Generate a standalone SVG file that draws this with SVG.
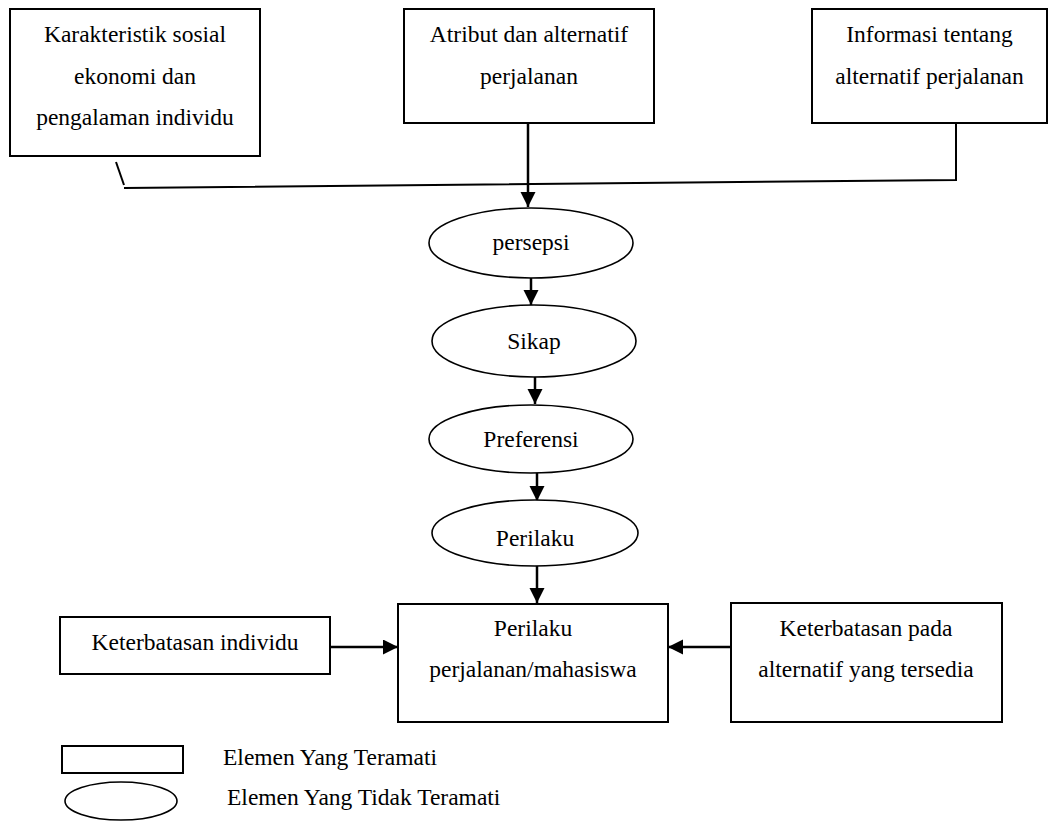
<svg xmlns="http://www.w3.org/2000/svg" width="1057" height="821" viewBox="0 0 1057 821">
<style>
.box{fill:#fff;stroke:#000;stroke-width:2}
.ell{fill:#fff;stroke:#000;stroke-width:1.6}
.t{font-family:"Liberation Serif","Times New Roman",serif;font-size:23.5px;fill:#000;text-anchor:middle}
.tl{font-family:"Liberation Serif","Times New Roman",serif;font-size:23.5px;fill:#000}
.ln{fill:none;stroke:#000;stroke-width:2}
.ar{fill:none;stroke:#000;stroke-width:2.5;marker-end:url(#ah)}
</style>
<defs>
<marker id="ah" markerUnits="userSpaceOnUse" markerWidth="16" markerHeight="16" refX="15" refY="7.5" orient="auto">
<path d="M0,0 L15,7.5 L0,15 Z" fill="#000"/>
</marker>
</defs>
<rect width="1057" height="821" fill="#fff"/>
<g id="connectors">
<path class="ln" d="M116,162 L124,185"/>
<path class="ln" d="M124,188 L956,180 L956,123"/>
<path class="ar" d="M528,123 L528,207"/>
<path class="ar" d="M531,278 L531,305"/>
<path class="ar" d="M535,377 L535,404"/>
<path class="ar" d="M537,473 L537,501"/>
<path class="ar" d="M537,566 L537,603"/>
<path class="ar" d="M330,647 L398,647"/>
<path class="ar" d="M731,647 L668,647"/>
</g>
<g id="n-karakteristik">
<rect class="box" x="10" y="9" width="250" height="147"/>
<text class="t" x="135" y="42">Karakteristik sosial</text>
<text class="t" x="135" y="84">ekonomi dan</text>
<text class="t" x="135" y="125">pengalaman individu</text>
</g>
<g id="n-atribut">
<rect class="box" x="404" y="9" width="250" height="114"/>
<text class="t" x="529" y="42">Atribut dan alternatif</text>
<text class="t" x="529" y="84">perjalanan</text>
</g>
<g id="n-informasi">
<rect class="box" x="812" y="9" width="235" height="114"/>
<text class="t" x="929.5" y="42">Informasi tentang</text>
<text class="t" x="929.5" y="84">alternatif perjalanan</text>
</g>
<g id="n-persepsi">
<ellipse class="ell" cx="531" cy="243" rx="102" ry="35"/>
<text class="t" x="531" y="250">persepsi</text>
</g>
<g id="n-sikap">
<ellipse class="ell" cx="534" cy="341" rx="102" ry="36"/>
<text class="t" x="534" y="349">Sikap</text>
</g>
<g id="n-preferensi">
<ellipse class="ell" cx="531" cy="439" rx="102" ry="34"/>
<text class="t" x="531" y="447">Preferensi</text>
</g>
<g id="n-perilaku">
<ellipse class="ell" cx="535" cy="533" rx="103" ry="33"/>
<text class="t" x="535" y="546">Perilaku</text>
</g>
<g id="n-perilaku-perjalanan">
<rect class="box" x="398" y="604" width="270" height="118"/>
<text class="t" x="533" y="636">Perilaku</text>
<text class="t" x="533" y="677">perjalanan/mahasiswa</text>
</g>
<g id="n-keterbatasan-individu">
<rect class="box" x="60" y="617" width="270" height="57"/>
<text class="t" x="195" y="650">Keterbatasan individu</text>
</g>
<g id="n-keterbatasan-alternatif">
<rect class="box" x="731" y="603" width="271" height="119"/>
<text class="t" x="866" y="636">Keterbatasan pada</text>
<text class="t" x="866" y="677">alternatif yang tersedia</text>
</g>
<g id="legend">
<rect class="box" x="62" y="746" width="121" height="27"/>
<text class="tl" x="223" y="765">Elemen Yang Teramati</text>
<ellipse class="ell" cx="121" cy="801" rx="56" ry="19"/>
<text class="tl" x="227" y="805">Elemen Yang Tidak Teramati</text>
</g>
</svg>
